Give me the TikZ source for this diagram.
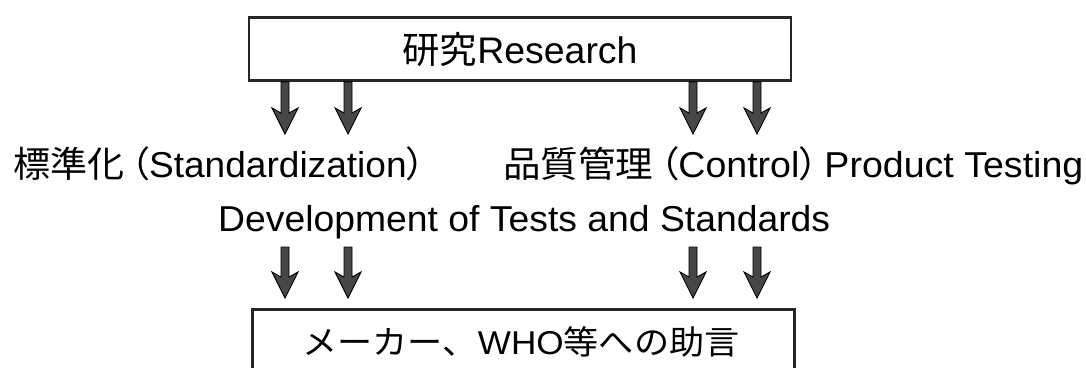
\documentclass[tikz,border=0pt]{standalone}
\usepackage{fontspec}
\usepackage{graphicx}
\setmainfont{Liberation Sans}
\newfontfamily\cjk{Noto Sans CJK JP}
\newfontfamily\cjkp[RawFeature=+palt]{Noto Sans CJK JP}
\usetikzlibrary{calc}
\newcommand\fitto[2]{\resizebox{#1}{\height}{#2}}
\tikzset{
  boxstyle/.style={draw=black!85, line width=2.6pt, inner sep=0pt},
  txt/.style={inner sep=0pt, font=\fontsize{36pt}{42pt}\selectfont},
  fatarr/.style={fill=black!72, draw=black, line width=0.9pt, line join=miter}
}
\newcommand\fatarrow[2]{%
  \draw[fatarr] let \p1=(#1), \p2=(#2) in
    ({\x1-4pt},{\y1}) -- ({\x1-4pt},{\y2+21pt}) -- ({\x1-13pt},{\y2+26pt})
    -- ({\x2},{\y2}) -- ({\x1+13pt},{\y2+26pt}) -- ({\x1+4pt},{\y2+21pt})
    -- ({\x1+4pt},{\y1}) -- cycle;}
\begin{document}
\begin{tikzpicture}[x=1pt,y=-1pt]
  \path[use as bounding box] (0,0) rectangle (1086,367);
  \clip (0,0) rectangle (1086,367);
  \fill[white] (0,0) rectangle (1086,367);
  % top box
  \node[boxstyle, minimum width=542pt, minimum height=63pt] (research) at (520,49) {};
  \node[txt, anchor=base, font=\fontsize{37pt}{42pt}\selectfont] (researchtxt) at (520,63)
        {\fitto{235pt}{{\cjk 研究}Research}};
  % row 1 texts
  \node[txt, anchor=base west] (std) at (13,177)
        {\fitto{412pt}{{\cjk 標準化}\,{\cjkp （}Standardization{\cjkp ）}}};
  \node[txt, anchor=base west] (qc) at (503,177)
        {\fitto{580pt}{{\cjk 品質管理}\,{\cjkp （}Control{\cjkp ）}\,Product Testing}};
  % row 2 text
  \node[txt, anchor=base west, font=\fontsize{36pt}{42pt}\selectfont] (dev) at (218,231)
        {\fitto{612pt}{Development of Tests and Standards}};
  % bottom box
  \node[boxstyle, minimum width=542pt, minimum height=120pt, anchor=north west]
        (advicebox) at (251,308) {};
  \node[txt, anchor=base, font=\fontsize{33pt}{40pt}\selectfont] (advice) at (521,354)
        {\fitto{437pt}{{\cjk メーカー、}WHO{\cjk 等への助言}}};
  % top arrows
  \coordinate (t1) at (285,134);
  \coordinate (t2) at (348,134);
  \coordinate (t3) at (693,134);
  \coordinate (t4) at (757,134);
  \fatarrow{research.south -| t1}{t1}
  \fatarrow{research.south -| t2}{t2}
  \fatarrow{research.south -| t3}{t3}
  \fatarrow{research.south -| t4}{t4}
  % bottom arrows
  \coordinate (s1) at (285,247); \coordinate (b1) at (285,298);
  \coordinate (s2) at (348,247); \coordinate (b2) at (348,298);
  \coordinate (s3) at (693,247); \coordinate (b3) at (693,298);
  \coordinate (s4) at (757,247); \coordinate (b4) at (757,298);
  \fatarrow{s1}{b1}
  \fatarrow{s2}{b2}
  \fatarrow{s3}{b3}
  \fatarrow{s4}{b4}
\end{tikzpicture}
\end{document}
